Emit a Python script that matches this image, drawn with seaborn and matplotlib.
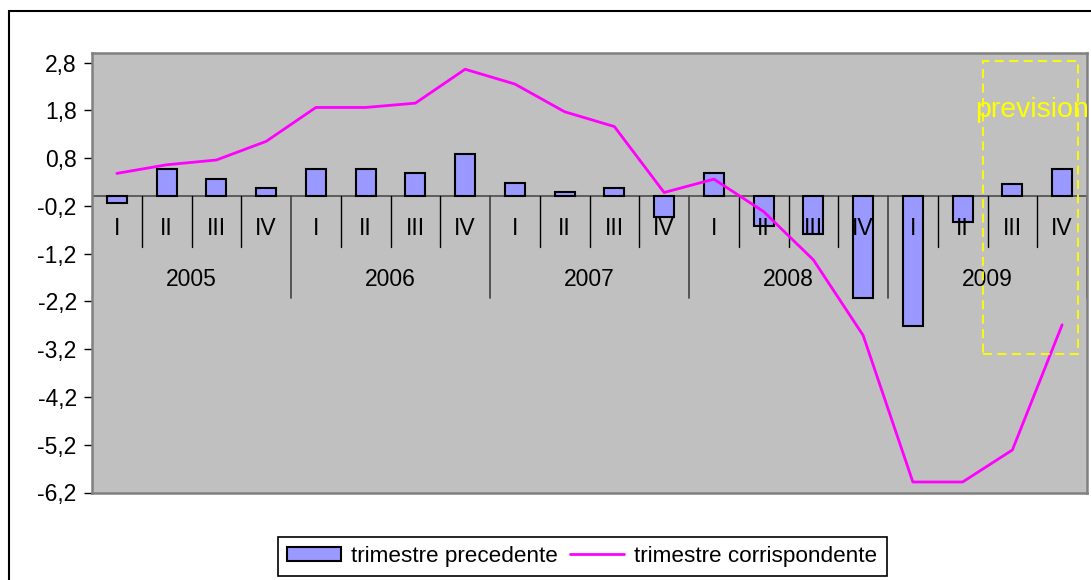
import numpy as np
import pandas as pd
import matplotlib
matplotlib.use('Agg')
import matplotlib.pyplot as plt
from matplotlib.patches import Rectangle, Patch
from matplotlib.lines import Line2D
import seaborn as sns

# dati
anni = ['2005', '2006', '2007', '2008', '2009']
trimestri = ['I', 'II', 'III', 'IV']
trim_precedente = [-0.14, 0.58, 0.36, 0.18,
                   0.58, 0.58, 0.48, 0.88,
                   0.27, 0.09, 0.18, -0.44,
                   0.48, -0.63, -0.79, -2.13,
                   -2.71, -0.54, 0.26, 0.58]
trim_corrispondente = [0.48, 0.66, 0.76, 1.15,
                       1.86, 1.86, 1.95, 2.66,
                       2.35, 1.77, 1.46, 0.08,
                       0.36, -0.32, -1.33, -2.91,
                       -5.98, -5.98, -5.31, -2.69]
y_ticks = [-6.2, -5.2, -4.2, -3.2, -2.2, -1.2, -0.2, 0.8, 1.8, 2.8]

periodi = [a + ' ' + q for a in anni for q in trimestri]
df = pd.DataFrame({'periodo': periodi,
                   'pos': np.arange(len(periodi)),
                   'precedente': trim_precedente,
                   'corrispondente': trim_corrispondente})

sns.set_style('white')
plt.rcParams['font.family'] = ['Liberation Sans', 'DejaVu Sans']
plt.rcParams['text.color'] = 'black'
plt.rcParams['ytick.color'] = 'black'
plt.rcParams['ytick.labelcolor'] = 'black'

fs = 16.5
fig = plt.figure(figsize=(10.91, 5.8), dpi=100)
ax = fig.add_axes([92 / 1091, 1 - 492.5 / 580, 995 / 1091, 439.5 / 580])
ax.set_facecolor('#C0C0C0')

sns.barplot(data=df, x='periodo', y='precedente', color='#9999FF', saturation=1,
            edgecolor='black', linewidth=1.5, width=0.4, ax=ax, zorder=3)
sns.lineplot(data=df, x='pos', y='corrispondente', color='#FF00FF', linewidth=2,
             ax=ax, zorder=5)

ax.set_xlim(-0.5, 19.5)
ax.set_ylim(-6.2, 3.0)
ax.set_xlabel('')
ax.set_ylabel('')
ax.set_xticks([])
ax.set_yticks(y_ticks)
ax.set_yticklabels([('%.1f' % v).replace('.', ',') for v in y_ticks])
ax.tick_params(axis='y', length=6, width=1, color='black', labelcolor='black',
               pad=5, labelsize=fs, left=True, direction='out')
for s in ax.spines.values():
    s.set_color('#808080')
    s.set_linewidth(1.8)

# asse delle categorie sullo zero
ax.axhline(0, color='#555555', lw=1.3, zorder=2)
n = len(periodi)
for k in range(n + 1):
    xb = k - 0.5
    if k % 4 == 0:
        ax.plot([xb, xb], [0, -2.13], color='#404040', lw=1.2, zorder=2)
    else:
        ax.plot([xb, xb], [0, -1.07], color='black', lw=1, zorder=2)
for i, p in enumerate(periodi):
    ax.text(i, -0.675, p.split()[1], ha='center', va='center', fontsize=fs,
            color='black', zorder=4)
for j, a in enumerate(anni):
    ax.text(4 * j + 1.5, -1.74, a, ha='center', va='center', fontsize=fs,
            color='black', zorder=4)

# riquadro previsione
ax.add_patch(Rectangle((17.41, -3.31), 1.91, 6.15, fill=False, edgecolor='#FFFF00',
                       lw=1.3, linestyle=(0, (5, 3)), zorder=6))
ax.text(17.25, 1.65, 'prevision', color='#FFFF00', fontsize=20.5, ha='left',
        va='baseline', zorder=6, clip_on=False)

# cornice esterna
fig.patches.append(Rectangle((9 / 1091, -0.5), 2, 0.5 + (1 - 11 / 580), fill=False,
                             edgecolor='black', lw=1.5, transform=fig.transFigure))

handles = [Patch(facecolor='#9999FF', edgecolor='black', linewidth=1.5),
           Line2D([0], [0], color='#FF00FF', lw=2)]
leg = fig.legend(handles, ['trimestre precedente', 'trimestre corrispondente'],
                 ncol=2, loc='upper left', bbox_to_anchor=(278 / 1091, 1 - 537 / 580),
                 borderaxespad=0, fontsize=16.2, frameon=True, fancybox=False,
                 edgecolor='black', handlelength=2.4, handleheight=0.6,
                 handletextpad=0.45, columnspacing=0.55, borderpad=0.4)
leg.get_frame().set_linewidth(1.2)
leg.get_frame().set_alpha(1)
for t in leg.get_texts():
    t.set_color('black')

fig.savefig('out.png', dpi=100)
